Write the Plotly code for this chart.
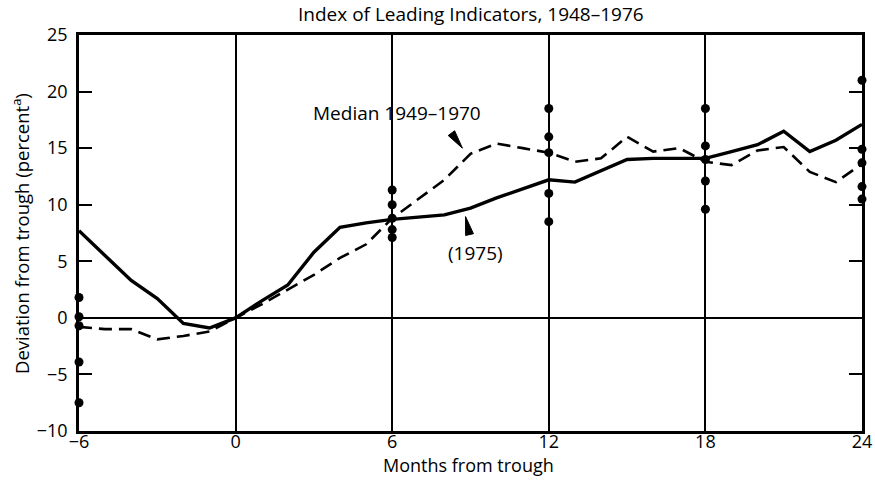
import plotly.graph_objects as go

# ---- data ----
months = list(range(-6, 25))
series_1975 = [7.7, 5.5, 3.3, 1.7, -0.5, -0.9, 0.0, 1.5, 2.9, 5.8, 8.0, 8.4, 8.7, 8.9, 9.1, 9.7,
               10.6, 11.4, 12.2, 12.0, 13.0, 14.0, 14.1, 14.1, 14.1, 14.7, 15.3, 16.5, 14.7, 15.7, 17.1]
median_1949_1970 = [-0.8, -1.0, -1.0, -1.9, -1.6, -1.2, 0.0, 1.2, 2.5, 3.8, 5.3, 6.5, 8.8, 10.5, 12.2, 14.5,
                    15.4, 15.0, 14.6, 13.8, 14.1, 16.0, 14.7, 15.0, 13.8, 13.5, 14.8, 15.1, 12.9, 12.0, 13.6]

dot_months = [-6]*5 + [6]*5 + [12]*5 + [18]*5 + [24]*5
dot_values = [1.8, 0.1, -0.7, -3.9, -7.5,
              11.3, 10.0, 8.8, 7.8, 7.1,
              18.5, 16.0, 14.6, 11.0, 8.5,
              18.5, 15.2, 14.0, 12.1, 9.6,
              21.0, 14.9, 13.7, 11.6, 10.5]

x_ticks = [-6, 0, 6, 12, 18, 24]
y_ticks = [-10, -5, 0, 5, 10, 15, 20, 25]

title_text = "Index of Leading Indicators, 1948\u20131976"
x_title = "Months from trough"
y_title = "Deviation from trough (percent<sup>a</sup>)"
label_median = "Median 1949\u20131970"
label_1975 = "(1975)"

FONT = "'Open Sans', Lato, sans-serif"

fig = go.Figure()
fig.add_trace(go.Scatter(x=months, y=median_1949_1970, mode="lines",
                         line=dict(color="black", width=2.6, dash="13px,7px"),
                         showlegend=False, cliponaxis=False))
fig.add_trace(go.Scatter(x=months, y=series_1975, mode="lines",
                         line=dict(color="black", width=3.4),
                         showlegend=False, cliponaxis=False))
fig.add_trace(go.Scatter(x=dot_months, y=dot_values, mode="markers",
                         marker=dict(color="black", size=9),
                         showlegend=False, cliponaxis=False))

# text labels
fig.add_annotation(x=6.2, y=18.1, text=label_median, showarrow=False,
                   font=dict(family=FONT, size=19, color="black"))
fig.add_annotation(x=9.19, y=5.75, text=label_1975, showarrow=False,
                   font=dict(family=FONT, size=19, color="black"))

# wedge pointers (pixel-sized paths anchored at data points)
fig.add_shape(type="path", xref="x", yref="y", xsizemode="pixel", ysizemode="pixel",
              xanchor=8.69, yanchor=15.0,
              path="M0,0 L-7.8,17.4 L-14.2,12.6 Z",
              fillcolor="black", line=dict(color="black", width=1))
fig.add_shape(type="path", xref="x", yref="y", xsizemode="pixel", ysizemode="pixel",
              xanchor=8.81, yanchor=8.95,
              path="M0,0 L7.9,-17.1 L0.1,-18.9 Z",
              fillcolor="black", line=dict(color="black", width=1))

# titles as annotations
fig.add_annotation(xref="paper", yref="paper", x=0.5006, y=1, yanchor="middle",
                   yshift=21, text=title_text, showarrow=False,
                   font=dict(family=FONT, size=19, color="black"))
fig.add_annotation(xref="paper", yref="paper", x=0.497, y=0, yanchor="middle",
                   yshift=-34, text=x_title, showarrow=False,
                   font=dict(family=FONT, size=18, color="black"))
fig.add_annotation(xref="paper", yref="paper", x=0, y=0.5, xanchor="center",
                   xshift=-59, yshift=-1, text=y_title, textangle=-90, showarrow=False,
                   font=dict(family=FONT, size=18.5, color="black"))

fig.update_layout(
    width=875, height=490,
    margin=dict(l=79, r=13, t=35, b=59),
    paper_bgcolor="white", plot_bgcolor="white",
    font=dict(family=FONT, size=18, color="black"),
    xaxis=dict(range=[-6, 24], tickvals=x_ticks, ticks="", ticklen=0, showgrid=True,
               gridcolor="black", gridwidth=1.5, zeroline=False, automargin=False,
               showline=True, linecolor="black", linewidth=2.5, mirror=True,
               ticklabelstandoff=-7,
               tickfont=dict(family=FONT, size=18)),
    yaxis=dict(range=[-10, 25], tickvals=y_ticks, ticks="inside", ticklen=13,
               tickwidth=2, tickcolor="black", showgrid=False, automargin=False,
               zeroline=True, zerolinecolor="black", zerolinewidth=1.5,
               showline=True, linecolor="black", linewidth=2.5, mirror="ticks",
               ticklabelstandoff=5,
               tickfont=dict(family=FONT, size=18)),
)

fig.write_html("out.html", config={"displayModeBar": False},
               post_script="document.body.style.margin='0px';")
